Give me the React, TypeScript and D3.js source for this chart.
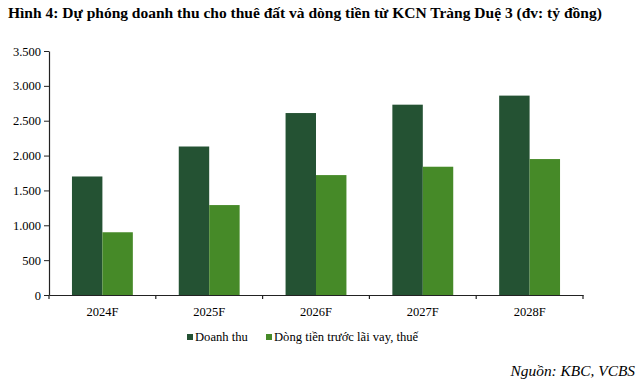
import React, { useEffect, useRef } from "react";
import * as d3 from "d3";

const categories = ["2024F", "2025F", "2026F", "2027F", "2028F"];
const seriesNames = ["Doanh thu", "Dòng tiền trước lãi vay, thuế"];
const doanhThu = [1700, 2130, 2610, 2730, 2860];
const dongTien = [900, 1290, 1720, 1840, 1950];
const yTicks = [0, 500, 1000, 1500, 2000, 2500, 3000, 3500];
const colors = ["#245233", "#468a28"];

const W = 640;
const H = 385;
const font = "'Liberation Serif', 'Times New Roman', serif";

export default function App() {
  const ref = useRef<SVGSVGElement>(null);

  useEffect(() => {
    const svg = d3.select(ref.current);
    svg.selectAll("*").remove();

    const margin = { top: 51, right: 57, bottom: 90, left: 49 };
    const height = H - margin.top - margin.bottom; // 244

    // title
    svg
      .append("text")
      .attr("x", 8)
      .attr("y", 18)
      .attr("font-family", font)
      .attr("font-size", 15.5)
      .attr("font-weight", "bold")
      .attr("fill", "#000")
      .text(
        "Hình 4: Dự phóng doanh thu cho thuê đất và dòng tiền từ KCN Tràng Duệ 3 (đv: tỷ đồng)"
      );

    const x0 = d3
      .scaleBand()
      .domain(categories)
      .range([margin.left, W - margin.right])
      .padding(0);

    const groupW = x0.bandwidth() * 0.57;
    const x1 = d3.scaleBand().domain(seriesNames).range([0, groupW]).padding(0);

    const y = d3
      .scaleLinear()
      .domain([0, 3500])
      .range([margin.top + height, margin.top]);

    const rows = categories.map((c, i) => ({
      cat: c,
      vals: [doanhThu[i], dongTien[i]],
    }));

    // bars
    const g = svg
      .append("g")
      .selectAll("g")
      .data(rows)
      .enter()
      .append("g")
      .attr(
        "transform",
        (d) => `translate(${x0(d.cat)! + (x0.bandwidth() - groupW) / 2},0)`
      );

    g.selectAll("rect")
      .data((d) => d.vals.map((v, k) => ({ key: seriesNames[k], v, k })))
      .enter()
      .append("rect")
      .attr("x", (d) => x1(d.key)!)
      .attr("y", (d) => y(d.v))
      .attr("width", x1.bandwidth())
      .attr("height", (d) => y(0) - y(d.v))
      .attr("fill", (d) => colors[d.k]);

    // y axis
    const yAxis = svg
      .append("g")
      .attr("transform", `translate(${margin.left},0)`)
      .call(
        d3
          .axisLeft(y)
          .tickValues(yTicks)
          .tickSize(5)
          .tickSizeOuter(0)
          .tickPadding(3)
          .tickFormat((d) => d3.format(",")(d as number).replace(/,/g, "."))
      );
    yAxis.attr("font-family", font);
    yAxis.select(".domain").attr("stroke", "#222").attr("stroke-width", 1.2);
    yAxis.selectAll(".tick line").attr("stroke", "#222");
    yAxis
      .selectAll("text")
      .attr("font-family", font)
      .attr("font-size", 12.5)
      .attr("fill", "#000");

    // x axis
    const xAxis = svg
      .append("g")
      .attr("transform", `translate(0,${y(0)})`)
      .call(d3.axisBottom(x0).tickSize(0).tickPadding(12));
    xAxis.attr("font-family", font);
    xAxis.select(".domain").attr("stroke", "#222").attr("stroke-width", 1.2);
    xAxis
      .selectAll("text")
      .attr("font-family", font)
      .attr("font-size", 12.5)
      .attr("fill", "#000");

    // category boundary ticks
    const bounds = categories.map((c) => x0(c)!).concat([W - margin.right]);
    xAxis
      .selectAll(".bound")
      .data(bounds)
      .enter()
      .append("line")
      .attr("x1", (d) => d)
      .attr("x2", (d) => d)
      .attr("y1", 0)
      .attr("y2", 4)
      .attr("stroke", "#222")
      .attr("stroke-width", 1.2);

    // legend
    const legendX = [187, 266];
    const leg = svg
      .append("g")
      .selectAll("g")
      .data(seriesNames)
      .enter()
      .append("g")
      .attr("transform", (d, i) => `translate(${legendX[i]},341)`);
    leg
      .append("rect")
      .attr("x", 0)
      .attr("y", -7)
      .attr("width", 6)
      .attr("height", 6)
      .attr("fill", (d, i) => colors[i]);
    leg
      .append("text")
      .attr("x", 8)
      .attr("y", 0)
      .attr("font-family", font)
      .attr("font-size", 12.6)
      .attr("fill", "#000")
      .text((d) => d);

    // source
    svg
      .append("text")
      .attr("x", 635)
      .attr("y", 376)
      .attr("text-anchor", "end")
      .attr("font-family", font)
      .attr("font-size", 15.4)
      .attr("font-style", "italic")
      .attr("fill", "#000")
      .text("Nguồn: KBC, VCBS");
  }, []);

  return (
    <svg
      ref={ref}
      width={W}
      height={H}
      style={{ position: "absolute", left: 0, top: 0, background: "#fff" }}
    />
  );
}
